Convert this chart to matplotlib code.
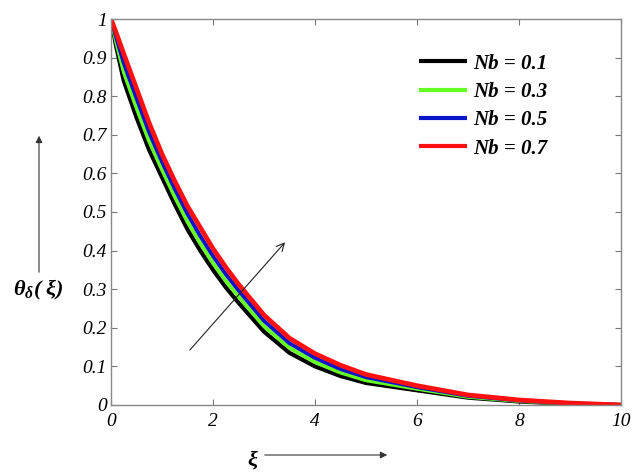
import matplotlib
matplotlib.use("Agg")
import matplotlib.pyplot as plt

# 读图得到的数据点
xi = [0, 0.1, 0.25, 0.5, 0.75, 1, 1.25, 1.5, 1.75, 2, 2.25, 2.5, 3, 3.5, 4, 4.5, 5,
      6, 7, 8, 9, 10]
theta_nb01 = [1.0, 0.93, 0.84, 0.745, 0.66, 0.59, 0.52, 0.455, 0.40, 0.35, 0.305, 0.265,
              0.19, 0.135, 0.10, 0.075, 0.057, 0.038, 0.019, 0.009, 0.003, 0.0]
theta_nb03 = [1.0, 0.942, 0.863, 0.77, 0.683, 0.61, 0.54, 0.475, 0.419, 0.368, 0.322, 0.281,
              0.204, 0.148, 0.111, 0.084, 0.064, 0.042, 0.021, 0.0103, 0.0037, 0.0]
theta_nb05 = [1.0, 0.953, 0.886, 0.795, 0.706, 0.63, 0.56, 0.495, 0.438, 0.386, 0.339, 0.297,
              0.218, 0.16, 0.122, 0.093, 0.072, 0.046, 0.0236, 0.0116, 0.0043, 0.0]
theta_nb07 = [1.0, 0.965, 0.91, 0.82, 0.73, 0.65, 0.58, 0.515, 0.46, 0.405, 0.357, 0.313,
              0.233, 0.173, 0.133, 0.103, 0.079, 0.05, 0.026, 0.013, 0.005, 0.0]

labels = ["Nb = 0.1", "Nb = 0.3", "Nb = 0.5", "Nb = 0.7"]
colors = ["#000000", "#66ff22", "#0a14c8", "#ff1010"]
xticks = [0, 2, 4, 6, 8, 10]
yticks = [0, 0.1, 0.2, 0.3, 0.4, 0.5, 0.6, 0.7, 0.8, 0.9, 1]
yticklabels = ["0", "0.1", "0.2", "0.3", "0.4", "0.5", "0.6", "0.7", "0.8", "0.9", "1"]

plt.rcParams['font.family'] = ['Liberation Serif', 'DejaVu Serif']
plt.rcParams['mathtext.fontset'] = 'custom'
plt.rcParams['mathtext.it'] = 'Liberation Serif:italic:bold'
plt.rcParams['mathtext.rm'] = 'Liberation Serif:bold'

fig = plt.figure(figsize=(6.4, 4.75), dpi=100)
ax = fig.add_axes([0.1734, 0.1474, 0.797, 0.8126])

series = [theta_nb01, theta_nb03, theta_nb05, theta_nb07]
widths = [3.0, 2.8, 2.8, 3.4]
for ys, c, lab, w in zip(series, colors, labels, widths):
    ax.plot(xi, ys, color=c, lw=w, label=lab, solid_capstyle='butt',
            solid_joinstyle='round')

ax.set_xlim(0, 10)
ax.set_ylim(0, 1)
ax.set_xticks(xticks)
ax.set_xticklabels([str(t) for t in xticks])
ax.set_yticks(yticks)
ax.set_yticklabels(yticklabels)
ax.tick_params(direction='in', top=True, right=True, length=4, width=0.8,
               color='#777777', labelsize=14)
ax.tick_params(axis='x', pad=6)
ax.tick_params(axis='y', pad=3)
for lbl in ax.get_xticklabels() + ax.get_yticklabels():
    lbl.set_fontstyle('italic')
for s in ax.spines.values():
    s.set_color('#888888')
    s.set_linewidth(1.0)

leg = ax.legend(loc='upper left', bbox_to_anchor=(0.604, 0.91), frameon=False,
                handlelength=2.3, handletextpad=0.3, labelspacing=0.4,
                borderpad=0, borderaxespad=0,
                prop={'family': 'Liberation Serif', 'weight': 'bold',
                      'style': 'italic', 'size': 15})
for ln in leg.get_lines():
    ln.set_linewidth(3)

# 图中的斜箭头
ax.annotate('', xy=(3.45, 0.427), xytext=(1.51, 0.137),
            arrowprops=dict(arrowstyle='->', lw=0.8, color='#222222',
                            mutation_scale=14))

# 坐标轴标签和箭头
fig.text(38 / 640, 1 - 290 / 475, r'$\theta_{\delta}$( ξ)', ha='center', va='center',
         fontsize=16, fontweight='bold', fontstyle='italic')
fig.text(252 / 640, 1 - 461 / 475, 'ξ', ha='center', va='center',
         fontsize=16, fontweight='bold', fontstyle='italic')
ax.annotate('', xy=(39, 475 - 133), xytext=(39, 475 - 275),
            xycoords='figure pixels', textcoords='figure pixels',
            arrowprops=dict(arrowstyle='-|>', lw=0.8, color='#333333',
                            mutation_scale=10))
ax.annotate('', xy=(390, 475 - 455), xytext=(262, 475 - 455),
            xycoords='figure pixels', textcoords='figure pixels',
            arrowprops=dict(arrowstyle='-|>', lw=0.8, color='#333333',
                            mutation_scale=10))

fig.savefig("out.png", dpi=100)
